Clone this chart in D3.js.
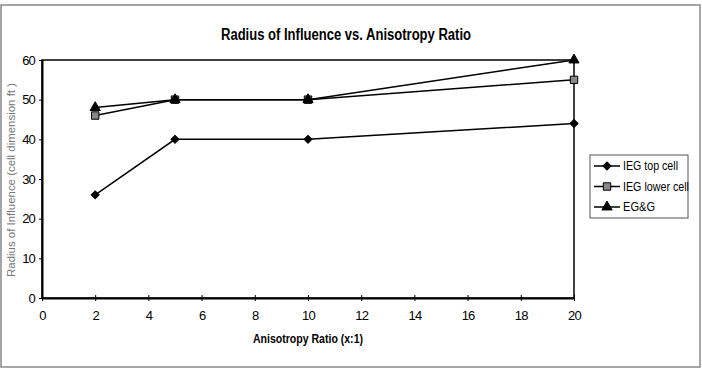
<!doctype html>
<html>
<head>
<script src="https://d3js.org/d3.v7.min.js"></script>
<style>
  body { margin: 0; background: #fff; }
  text { font-family: "Liberation Sans", Arial, sans-serif; }
</style>
</head>
<body>
<svg width="702" height="374"></svg>
<script>
// data
var ratios = [2, 5, 10, 20];
var iegTop = [26, 40, 40, 44];
var iegLower = [46, 50, 50, 55];
var egg = [48, 50, 50, 60];
var seriesNames = ["IEG top cell", "IEG lower cell", "EG&G"];
var xTicks = [0, 2, 4, 6, 8, 10, 12, 14, 16, 18, 20];
var yTicks = [0, 10, 20, 30, 40, 50, 60];

var svg = d3.select("svg");

// outer frame
svg.append("rect")
  .attr("x", 1).attr("y", 5).attr("width", 699).attr("height", 362)
  .style("fill", "none").style("stroke", "#888").style("stroke-width", 1.5);

var pLeft = 42, pRight = 574, pTop = 60, pBottom = 298;
var xScale = d3.scaleLinear().domain([0, 20]).range([pLeft, pRight]);
var yScale = d3.scaleLinear().domain([0, 60]).range([pBottom, pTop]);

// plot box
svg.append("rect")
  .attr("x", pLeft).attr("y", pTop).attr("width", pRight - pLeft).attr("height", pBottom - pTop)
  .style("fill", "none").style("stroke", "#000").style("stroke-width", 1.5);

// axes
var xAxis = svg.append("g")
  .attr("transform", "translate(0," + pBottom + ")")
  .call(d3.axisBottom(xScale).tickValues(xTicks).tickSize(3).tickSizeOuter(0).tickPadding(10));
var yAxis = svg.append("g")
  .attr("transform", "translate(" + pLeft + ",0)")
  .call(d3.axisLeft(yScale).tickValues(yTicks).tickSize(3).tickSizeOuter(0).tickPadding(4));
[xAxis, yAxis].forEach(function (a) {
  a.select(".domain").style("stroke", "#000").style("stroke-width", 2);
  a.selectAll(".tick line").style("stroke", "#000");
  a.selectAll(".tick text")
    .style("font-family", "'Liberation Sans', Arial, sans-serif")
    .style("font-size", "13px")
    .style("letter-spacing", "-0.8px")
    .style("fill", "#000");
});
xAxis.selectAll(".tick line").attr("y1", -3).attr("y2", 3);

// titles
svg.append("text")
  .attr("x", 346).attr("y", 40)
  .attr("text-anchor", "middle")
  .attr("textLength", 250).attr("lengthAdjust", "spacingAndGlyphs")
  .style("font-size", "16px").style("font-weight", "bold")
  .text("Radius of Influence vs. Anisotropy Ratio");

svg.append("text")
  .attr("x", 308).attr("y", 343)
  .attr("text-anchor", "middle")
  .attr("textLength", 110).attr("lengthAdjust", "spacingAndGlyphs")
  .style("font-size", "12px").style("font-weight", "bold")
  .text("Anisotropy Ratio (x:1)");

svg.append("text")
  .attr("transform", "translate(15," + 180 + ")rotate(-90)")
  .attr("text-anchor", "middle")
  .attr("textLength", 194).attr("lengthAdjust", "spacingAndGlyphs")
  .style("font-size", "11px")
  .style("fill", "#777")
  .text("Radius of Influence (cell dimension ft )");

// series
var allSeries = [iegTop, iegLower, egg];
var symbols = [d3.symbolSquare, d3.symbolSquare, d3.symbolTriangle];
var symSizes = [32, 55, 45];
var symRot = [45, 0, 0];
var fills = ["#000", "#888", "#000"];

var line = d3.line()
  .x(function (d) { return xScale(d[0]); })
  .y(function (d) { return yScale(d[1]); });

allSeries.forEach(function (vals, i) {
  var pts = ratios.map(function (r, j) { return [r, vals[j]]; });
  svg.append("path")
    .datum(pts)
    .attr("d", line)
    .style("fill", "none").style("stroke", "#000").style("stroke-width", 1.5);
  svg.append("g").selectAll("path")
    .data(pts)
    .enter().append("path")
    .attr("d", d3.symbol().type(symbols[i]).size(symSizes[i]))
    .attr("transform", function (d) {
      return "translate(" + xScale(d[0]) + "," + yScale(d[1]) + ")rotate(" + symRot[i] + ")";
    })
    .style("fill", fills[i]).style("stroke", "#000").style("stroke-width", 1);
});

// legend
var legendWidths = [55, 66, 32];
var legend = svg.append("g").attr("transform", "translate(590,155)");
legend.append("rect")
  .attr("width", 98).attr("height", 63)
  .style("fill", "#fff").style("stroke", "#555").style("stroke-width", 1);
seriesNames.forEach(function (name, i) {
  var y = 11 + i * 20.5;
  legend.append("line")
    .attr("x1", 4).attr("x2", 30).attr("y1", y).attr("y2", y)
    .style("stroke", "#000").style("stroke-width", 1.5);
  legend.append("path")
    .attr("d", d3.symbol().type(symbols[i]).size(symSizes[i]))
    .attr("transform", "translate(17," + y + ")rotate(" + symRot[i] + ")")
    .style("fill", fills[i]).style("stroke", "#000");
  legend.append("text")
    .attr("x", 33).attr("y", y + 4)
    .attr("textLength", legendWidths[i]).attr("lengthAdjust", "spacingAndGlyphs")
    .style("font-size", "12px")
    .text(name);
});
</script>
</body>
</html>
